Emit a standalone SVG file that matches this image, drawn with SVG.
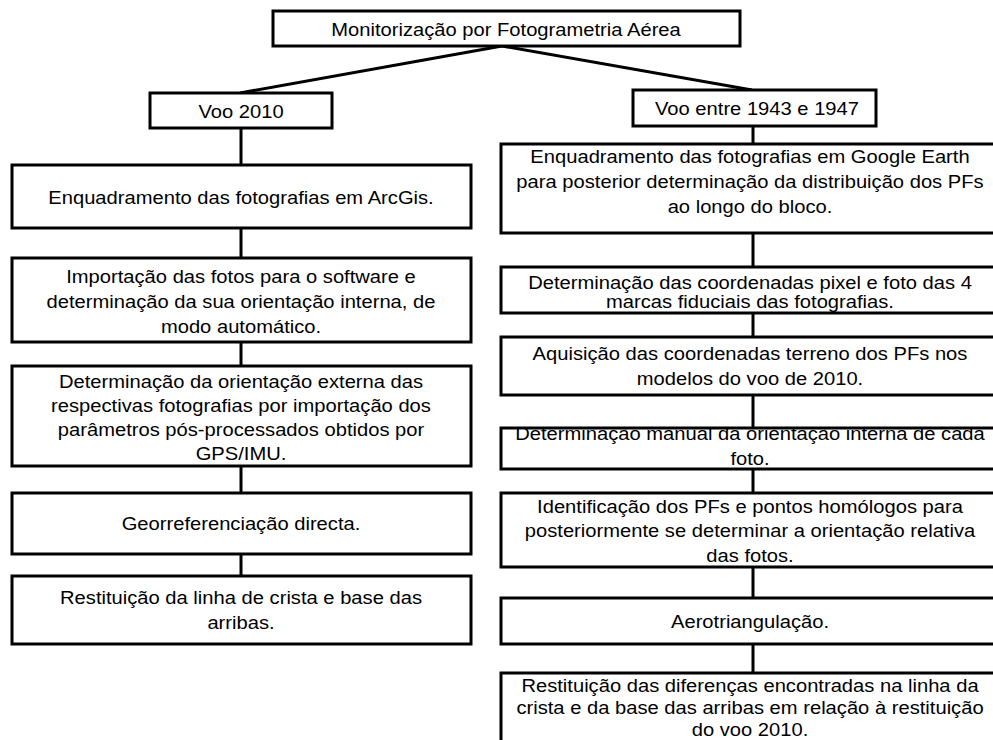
<svg xmlns="http://www.w3.org/2000/svg" width="993" height="740" viewBox="0 0 993 740">
<style>
.box{fill:#fff;stroke:#000;stroke-width:3}
.ln{stroke:#000;stroke-width:3;fill:none}
.t{font-family:"Liberation Sans",Arial,sans-serif;font-size:18.5px;fill:#000;text-anchor:middle}
</style>
<rect width="993" height="740" fill="#fff"/>
<g id="connectors">
<line class="ln" x1="502" y1="46" x2="240" y2="93"/>
<line class="ln" x1="502" y1="46" x2="752" y2="90"/>
<line class="ln" x1="241" y1="128" x2="241" y2="165"/>
<line class="ln" x1="241" y1="228" x2="241" y2="258"/>
<line class="ln" x1="241" y1="342" x2="241" y2="366"/>
<line class="ln" x1="241" y1="466" x2="241" y2="493"/>
<line class="ln" x1="241" y1="554" x2="241" y2="576"/>
<line class="ln" x1="753" y1="126" x2="753" y2="144"/>
<line class="ln" x1="753" y1="233" x2="753" y2="267"/>
<line class="ln" x1="753" y1="313" x2="753" y2="337"/>
<line class="ln" x1="753" y1="395" x2="753" y2="428"/>
<line class="ln" x1="753" y1="469" x2="753" y2="493"/>
<line class="ln" x1="753" y1="567" x2="753" y2="598"/>
<line class="ln" x1="753" y1="644" x2="753" y2="673"/>
</g>
<g id="root">
<rect class="box" x="273" y="11" width="467" height="35"/>
<text class="t" transform="translate(506 0) scale(1.09 1)"><tspan x="0" y="36">Monitorização por Fotogrametria Aérea</tspan></text>
</g>
<g id="voo2010">
<rect class="box" x="150" y="93" width="182" height="35"/>
<text class="t" transform="translate(241 0) scale(1.09 1)"><tspan x="0" y="118">Voo 2010</tspan></text>
</g>
<g id="voo1943">
<rect class="box" x="633" y="90" width="243" height="36"/>
<text class="t" transform="translate(757 0) scale(1.09 1)"><tspan x="0" y="115">Voo entre 1943 e 1947</tspan></text>
</g>
<g id="L1">
<rect class="box" x="12" y="165" width="459" height="63"/>
<text class="t" transform="translate(241 0) scale(1.09 1)"><tspan x="0" y="204">Enquadramento das fotografias em ArcGis.</tspan></text>
</g>
<g id="L2">
<rect class="box" x="12" y="258" width="459" height="84"/>
<text class="t" transform="translate(241 0) scale(1.09 1)"><tspan x="0" y="283">Importação das fotos para o software e</tspan><tspan x="0" y="308">determinação da sua orientação interna, de</tspan><tspan x="0" y="333">modo automático.</tspan></text>
</g>
<g id="L3">
<rect class="box" x="12" y="366" width="459" height="100"/>
<text class="t" transform="translate(241 0) scale(1.09 1)"><tspan x="0" y="388">Determinação da orientação externa das</tspan><tspan x="0" y="412">respectivas fotografias por importação dos</tspan><tspan x="0" y="436">parâmetros pós-processados obtidos por</tspan><tspan x="0" y="460">GPS/IMU.</tspan></text>
</g>
<g id="L4">
<rect class="box" x="12" y="493" width="459" height="61"/>
<text class="t" transform="translate(241 0) scale(1.09 1)"><tspan x="0" y="530">Georreferenciação directa.</tspan></text>
</g>
<g id="L5">
<rect class="box" x="12" y="576" width="459" height="68"/>
<text class="t" transform="translate(241 0) scale(1.09 1)"><tspan x="0" y="604">Restituição da linha de crista e base das</tspan><tspan x="0" y="629">arribas.</tspan></text>
</g>
<g id="R1">
<rect class="box" x="501" y="144" width="500" height="89"/>
<text class="t" transform="translate(750 0) scale(1.09 1)"><tspan x="0" y="163">Enquadramento das fotografias em Google Earth</tspan><tspan x="0" y="188">para posterior determinação da distribuição dos PFs</tspan><tspan x="0" y="213">ao longo do bloco.</tspan></text>
</g>
<g id="R2">
<rect class="box" x="501" y="267" width="500" height="46"/>
<text class="t" transform="translate(750 0) scale(1.09 1)"><tspan x="0" y="289">Determinação das coordenadas pixel e foto das 4</tspan><tspan x="0" y="308">marcas fiduciais das fotografias.</tspan></text>
</g>
<g id="R3">
<rect class="box" x="501" y="337" width="500" height="58"/>
<text class="t" transform="translate(750 0) scale(1.09 1)"><tspan x="0" y="360">Aquisição das coordenadas terreno dos PFs nos</tspan><tspan x="0" y="385">modelos do voo de 2010.</tspan></text>
</g>
<g id="R4">
<rect class="box" x="501" y="428" width="500" height="41"/>
<text class="t" transform="translate(750 0) scale(1.09 1)"><tspan x="0" y="440">Determinação manual da orientação interna de cada</tspan><tspan x="0" y="465">foto.</tspan></text>
</g>
<g id="R5">
<rect class="box" x="501" y="493" width="500" height="74"/>
<text class="t" transform="translate(750 0) scale(1.09 1)"><tspan x="0" y="513">Identificação dos PFs e pontos homólogos para</tspan><tspan x="0" y="537">posteriormente se determinar a orientação relativa</tspan><tspan x="0" y="562">das fotos.</tspan></text>
</g>
<g id="R6">
<rect class="box" x="501" y="598" width="500" height="46"/>
<text class="t" transform="translate(750 0) scale(1.09 1)"><tspan x="0" y="628">Aerotriangulação.</tspan></text>
</g>
<g id="R7">
<rect class="box" x="501" y="673" width="500" height="90"/>
<text class="t" transform="translate(750 0) scale(1.09 1)"><tspan x="0" y="692">Restituição das diferenças encontradas na linha da</tspan><tspan x="0" y="714">crista e da base das arribas em relação à restituição</tspan><tspan x="0" y="736">do voo 2010.</tspan></text>
</g>
</svg>
